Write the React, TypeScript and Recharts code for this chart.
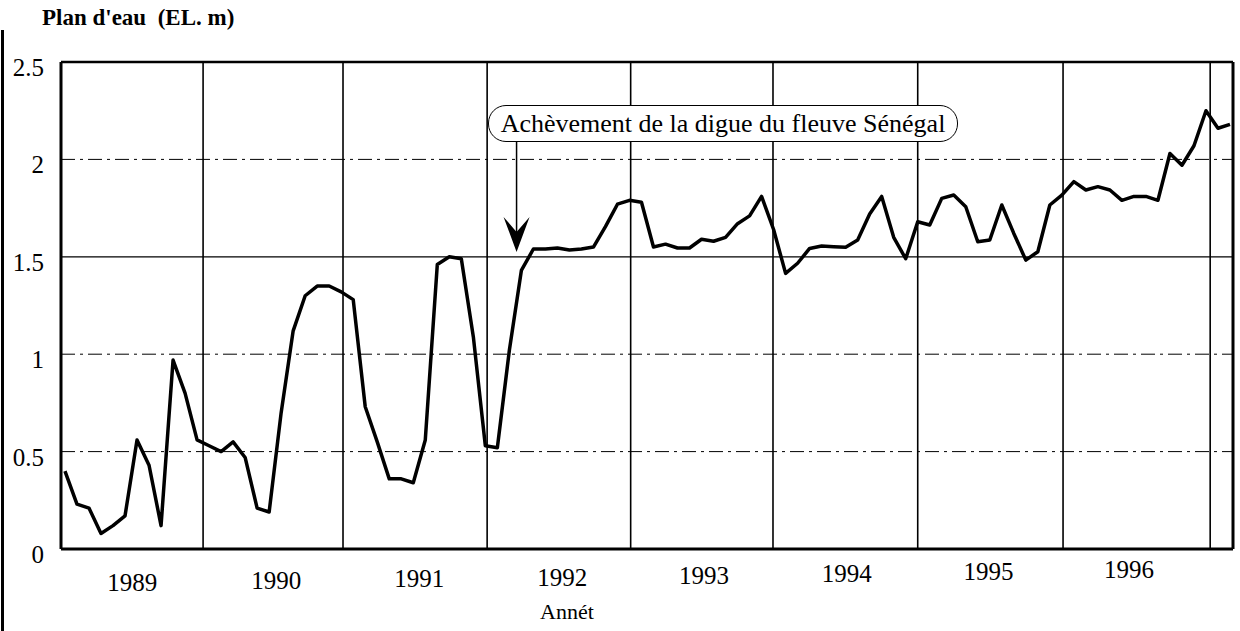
import React from 'react'
import { LineChart, Line, XAxis, YAxis, ReferenceLine, ReferenceDot } from 'recharts'

// plan d'eau mensuel, janv. 1989 -> fev. 1997
const levels = [
  0.40, 0.23, 0.21, 0.08, 0.12, 0.17, 0.56, 0.43, 0.12, 0.97, 0.80, 0.56,
  0.53, 0.50, 0.55, 0.47, 0.21, 0.19, 0.70, 1.12, 1.30, 1.35, 1.35, 1.32,
  1.28, 0.73, 0.55, 0.36, 0.36, 0.34, 0.56, 1.46, 1.50, 1.49, 1.09, 0.53,
  0.52, 1.02, 1.43, 1.54, 1.54, 1.545, 1.535, 1.54, 1.55, 1.655, 1.77, 1.79,
  1.78, 1.55, 1.565, 1.545, 1.545, 1.59, 1.58, 1.60, 1.67, 1.71, 1.81, 1.64,
  1.415, 1.467, 1.543, 1.555, 1.552, 1.549, 1.586, 1.72, 1.81, 1.60, 1.49, 1.68,
  1.663, 1.80, 1.817, 1.757, 1.577, 1.586, 1.766, 1.62, 1.483, 1.526, 1.766, 1.817,
  1.886, 1.843, 1.86, 1.843, 1.79, 1.81, 1.81, 1.79, 2.03, 1.97, 2.07, 2.25,
  2.16, 2.18,
]
const yearLabels = ['1989', '1990', '1991', '1992', '1993', '1994', '1995', '1996']
const yearLabelAt = [5.6, 17.6, 29.5, 41.4, 53.2, 65.1, 76.9, 88.6]
const yearBounds = [11.5, 23.15, 35.15, 47.1, 58.95, 71.0, 83.1, 95.35]
const yTicks = [0, 0.5, 1, 1.5, 2, 2.5]
const dashedLevels = [0.5, 1, 2]
const damMonth = 37.6
const damTop = 2.09
const damTip = 1.525

const data = levels.map((v, i) => ({ m: i, v }))
const X_MIN = -0.33
const X_MAX = 97.25
const serif = "'Liberation Serif', 'Times New Roman', serif"

const YearTick = ({ x, y, payload, index }: any) => {
  const i = yearLabelAt.indexOf(payload.value)
  return (
    <text x={x} y={y} dy={42 - index * 1.8} textAnchor="middle" fill="#000"
      fontSize={25} fontFamily={serif}>
      {yearLabels[i]}
    </text>
  )
}

const LevelTick = ({ x, y, payload }: any) => (
  <text x={x} y={y} dy={14} textAnchor="end" fill="#000" fontSize={25} fontFamily={serif}>
    {payload.value}
  </text>
)

const ArrowHead = ({ cx, cy }: any) => (
  <path d={`M${cx},${cy} L${cx - 13},${cy - 35} L${cx},${cy - 20} L${cx + 13},${cy - 35} Z`} fill="#000" />
)

export default function App() {
  return (
    <div style={{ position: 'relative', width: 1240, height: 631, background: '#fff', fontFamily: serif }}>
      <style>{'body{margin:0}'}</style>
      <div style={{ position: 'absolute', left: 1, top: 30, width: 3, height: 601, background: '#000' }} />
      <div style={{ position: 'absolute', left: 42, top: 5, fontSize: 23, fontWeight: 700, color: '#000', whiteSpace: 'pre' }}>
        {"Plan d'eau  (EL. m)"}
      </div>

      <LineChart width={1240} height={631} data={data} margin={{ top: 62, right: 7, bottom: 32, left: 0 }}>
        <XAxis
          dataKey="m" type="number" domain={[X_MIN, X_MAX]} allowDataOverflow
          ticks={yearLabelAt} interval={0} tick={<YearTick />}
          tickLine={false} tickSize={0} tickMargin={0} height={50}
          axisLine={{ stroke: '#000', strokeWidth: 3 }}
        />
        <YAxis
          type="number" domain={[0, 2.5]} ticks={yTicks} interval={0} width={61}
          tick={<LevelTick />} tickLine={false} tickSize={0} tickMargin={17}
          axisLine={{ stroke: '#000', strokeWidth: 3 }}
        />
        {dashedLevels.map((l) => (
          <ReferenceLine key={l} y={l} stroke="#000" strokeWidth={1} strokeDasharray="14 5 3 5" />
        ))}
        <ReferenceLine y={1.5} stroke="#000" strokeWidth={1.2} />
        <ReferenceLine y={2.5} stroke="#000" strokeWidth={2.5} />
        {yearBounds.map((b) => (
          <ReferenceLine key={b} x={b} stroke="#000" strokeWidth={1.6} />
        ))}
        <ReferenceLine x={X_MAX} stroke="#000" strokeWidth={3} />
        <ReferenceLine
          segment={[{ x: damMonth, y: damTop }, { x: damMonth, y: damTip + 0.05 }]}
          stroke="#000" strokeWidth={1.5}
        />
        <Line
          type="linear" dataKey="v" stroke="#000" strokeWidth={3.5} dot={false}
          strokeLinejoin="round" isAnimationActive={false}
        />
        <ReferenceDot x={damMonth} y={damTip} r={1} shape={<ArrowHead />} />
      </LineChart>

      <div style={{
        position: 'absolute', left: 488, top: 105, width: 470, height: 37, boxSizing: 'border-box',
        border: '1.5px solid #000', borderRadius: 18, background: '#fff',
        display: 'flex', alignItems: 'center', justifyContent: 'center',
        fontSize: 26, color: '#000', whiteSpace: 'nowrap',
      }}>
        Achèvement de la digue du fleuve Sénégal
      </div>
      <div style={{ position: 'absolute', left: 520, top: 599, fontSize: 22, color: '#000', width: 94, textAlign: 'center' }}>
        Annét
      </div>
    </div>
  )
}
